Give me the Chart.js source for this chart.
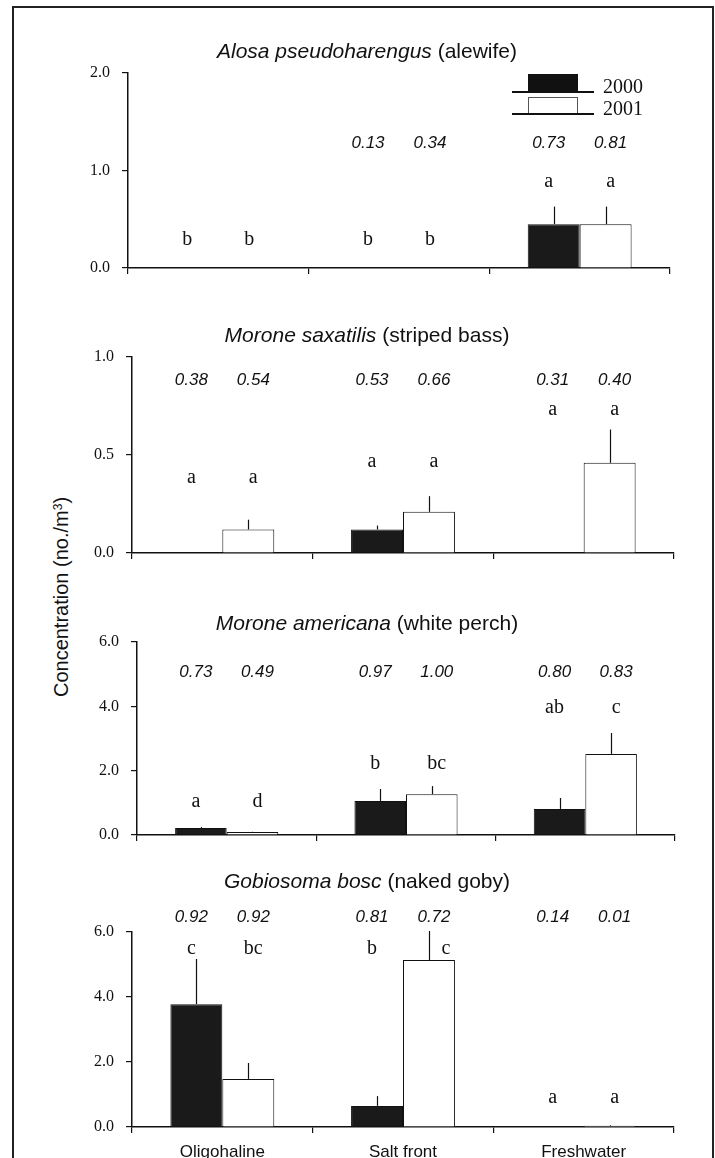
<!DOCTYPE html>
<html><head><meta charset="utf-8">
<script src="https://cdn.jsdelivr.net/npm/chart.js@4.4.1/dist/chart.umd.min.js"></script>
<style>
html,body{margin:0;padding:0;background:#fff;width:715px;height:1158px;overflow:hidden;}
#frame{position:absolute;left:12px;top:6px;width:702px;height:1200px;border:2px solid #222;box-sizing:border-box;}
canvas{position:absolute;left:0;}
#ytitle{position:absolute;left:61px;top:597px;transform:translate(-50%,-50%) rotate(-90deg);font:20px "Liberation Sans",Arial,sans-serif;white-space:nowrap;color:#111;line-height:22px;}
#ytitle sup{font-size:12px;vertical-align:top;position:relative;top:-3px;}
</style></head><body>
<div id="frame"></div>
<div id="ytitle">Concentration (no./m<sup>3</sup>)</div>
<canvas id="c1" width="715" height="290" style="top:0px"></canvas>
<canvas id="c2" width="715" height="290" style="top:290px"></canvas>
<canvas id="c3" width="715" height="285" style="top:580px"></canvas>
<canvas id="c4" width="715" height="293" style="top:865px"></canvas>
<script>
// ---- data ----
const categories = ['Oligohaline', 'Salt front', 'Freshwater'];
const years = ['2000', '2001'];

const alewife2000 = [0, 0, 0.45];
const alewife2001 = [0, 0, 0.45];
const alewifeSE2000 = [0, 0, 0.18];
const alewifeSE2001 = [0, 0, 0.18];
const alewifeP2000 = ['', '0.13', '0.73'];
const alewifeP2001 = ['', '0.34', '0.81'];
const alewifeL2000 = ['b', 'b', 'a'];
const alewifeL2001 = ['b', 'b', 'a'];

const bass2000 = [0.003, 0.12, 0.003];
const bass2001 = [0.12, 0.21, 0.46];
const bassSE2000 = [0, 0.02, 0];
const bassSE2001 = [0.05, 0.08, 0.17];
const bassP2000 = ['0.38', '0.53', '0.31'];
const bassP2001 = ['0.54', '0.66', '0.40'];
const bassL2000 = ['a', 'a', 'a'];
const bassL2001 = ['a', 'a', 'a'];

const perch2000 = [0.22, 1.06, 0.81];
const perch2001 = [0.09, 1.27, 2.52];
const perchSE2000 = [0.03, 0.37, 0.34];
const perchSE2001 = [0.01, 0.25, 0.65];
const perchP2000 = ['0.73', '0.97', '0.80'];
const perchP2001 = ['0.49', '1.00', '0.83'];
const perchL2000 = ['a', 'b', 'ab'];
const perchL2001 = ['d', 'bc', 'c'];

const goby2000 = [3.78, 0.65, 0];
const goby2001 = [1.48, 5.14, 0.04];
const gobySE2000 = [1.39, 0.30, 0];
const gobySE2001 = [0.49, 0.89, 0.02];
const gobyP2000 = ['0.92', '0.81', '0.14'];
const gobyP2001 = ['0.92', '0.72', '0.01'];
const gobyL2000 = ['c', 'b', 'a'];
const gobyL2001 = ['bc', 'c', 'a'];

const yTicksAlewife = [0, 1, 2];
const yTicksBass = [0, 0.5, 1];
const yTicksPerch = [0, 2, 4, 6];
const yTicksGoby = [0, 2, 4, 6];

// ---- layout / style ----
const SANS = '"Liberation Sans", Arial, sans-serif';
const SERIF = '"Liberation Serif", "Times New Roman", serif';
const LABEL_SPREAD = 5;

const panels = [
  {id:'c1', canvasTop:0, canvasH:290, axisX:128, right:670, top:73, bottom:268, max:2, ticks:yTicksAlewife,
   title:['Alosa pseudoharengus', ' (alewife)'], titleY:52.5,
   v:[alewife2000, alewife2001], se:[alewifeSE2000, alewifeSE2001], p:[alewifeP2000, alewifeP2001], l:[alewifeL2000, alewifeL2001],
   pY:1.23, letterY:[0.236, 0.236, 0.83], letterDx:[[0,0,0],[0,0,0]], legend:true, xLabels:false},
  {id:'c2', canvasTop:290, canvasH:290, axisX:132, right:674, top:357, bottom:553, max:1, ticks:yTicksBass,
   title:['Morone saxatilis', ' (striped bass)'], titleY:336.5,
   v:[bass2000, bass2001], se:[bassSE2000, bassSE2001], p:[bassP2000, bassP2001], l:[bassL2000, bassL2001],
   pY:0.857, letterY:[0.357, 0.439, 0.704], letterDx:[[0,0,0],[0,0,0]], legend:false, xLabels:false},
  {id:'c3', canvasTop:580, canvasH:285, axisX:137, right:675, top:642, bottom:835, max:6, ticks:yTicksPerch,
   title:['Morone americana', ' (white perch)'], titleY:624,
   v:[perch2000, perch2001], se:[perchSE2000, perchSE2001], p:[perchP2000, perchP2001], l:[perchL2000, perchL2001],
   pY:4.91, letterY:[0.87, 2.05, 3.79], letterDx:[[0,0,0],[0,0,0]], legend:false, xLabels:false},
  {id:'c4', canvasTop:865, canvasH:293, axisX:132, right:674, top:932, bottom:1127, max:6, ticks:yTicksGoby,
   title:['Gobiosoma bosc', ' (naked goby)'], titleY:882.5,
   v:[goby2000, goby2001], se:[gobySE2000, gobySE2001], p:[gobyP2000, gobyP2001], l:[gobyL2000, gobyL2001],
   pY:6.31, letterY:[5.32, 5.32, 0.74], letterDx:[[0,0,0],[0,12,0]], legend:false, xLabels:true}
];

const annotPlugin = {
  id: 'annot',
  afterDatasetsDraw(chart) {
    const cfg = chart.options.plugins.annot;
    const ctx = chart.ctx;
    const ys = chart.scales.y;
    ctx.save();
    ctx.strokeStyle = '#111';
    ctx.lineWidth = 1.2;
    chart.data.datasets.forEach((ds, di) => {
      const meta = chart.getDatasetMeta(di);
      meta.data.forEach((el, j) => {
        const se = cfg.se[di][j];
        if (se > 0) {
          const y1 = ys.getPixelForValue(ds.data[j]);
          const y2 = ys.getPixelForValue(ds.data[j] + se);
          const x = Math.round(el.x) + 0.5;
          ctx.beginPath(); ctx.moveTo(x, y1); ctx.lineTo(x, y2); ctx.stroke();
        }
      });
    });
    ctx.restore();
  },
  afterDraw(chart) {
    const cfg = chart.options.plugins.annot;
    const ctx = chart.ctx;
    const ys = chart.scales.y;
    ctx.save();
    ctx.fillStyle = '#111';
    ctx.textAlign = 'center';
    ctx.textBaseline = 'alphabetic';
    chart.data.datasets.forEach((ds, di) => {
      const meta = chart.getDatasetMeta(di);
      const spread = di === 0 ? -LABEL_SPREAD : LABEL_SPREAD;
      meta.data.forEach((el, j) => {
        ctx.font = 'italic 17px ' + SANS;
        if (cfg.p[di][j]) ctx.fillText(cfg.p[di][j], el.x + spread, ys.getPixelForValue(cfg.pY));
        ctx.font = '20px ' + SERIF;
        if (cfg.l[di][j]) ctx.fillText(cfg.l[di][j], el.x + spread + cfg.letterDx[di][j], ys.getPixelForValue(cfg.letterY[j]));
      });
    });
    // title: italic genus + plain common name
    const t = cfg.title;
    ctx.textBaseline = 'middle';
    ctx.textAlign = 'left';
    ctx.font = 'italic 21px ' + SANS;
    const w1 = ctx.measureText(t[0]).width;
    ctx.font = '21px ' + SANS;
    const w2 = ctx.measureText(t[1]).width;
    const x0 = 367 - (w1 + w2) / 2;
    const ty = cfg.titleY - cfg.canvasTop;
    ctx.font = 'italic 21px ' + SANS;
    ctx.fillText(t[0], x0, ty);
    ctx.font = '21px ' + SANS;
    ctx.fillText(t[1], x0 + w1, ty);
    // legend
    if (cfg.legend) {
      ctx.fillStyle = '#111';
      ctx.fillRect(528, 74, 50, 18);
      ctx.strokeStyle = '#111';
      ctx.lineWidth = 2;
      ctx.beginPath(); ctx.moveTo(512, 92); ctx.lineTo(594, 92); ctx.stroke();
      ctx.lineWidth = 1;
      ctx.strokeStyle = '#555';
      ctx.strokeRect(528.5, 97.5, 49, 16);
      ctx.strokeStyle = '#111';
      ctx.lineWidth = 2;
      ctx.beginPath(); ctx.moveTo(512, 114); ctx.lineTo(594, 114); ctx.stroke();
      ctx.font = '20px ' + SERIF;
      ctx.textBaseline = 'alphabetic';
      ctx.fillText(years[0], 603, 93);
      ctx.fillText(years[1], 603, 115);
    }
    ctx.restore();
  }
};

panels.forEach(pn => {
  const xH = pn.xLabels ? 31 : 10;
  const padBottom = pn.canvasH - (pn.bottom - pn.canvasTop) - xH;
  new Chart(document.getElementById(pn.id), {
    type: 'bar',
    data: {
      labels: categories,
      datasets: [
        {label: years[0], data: pn.v[0], backgroundColor: '#1a1a1a', borderColor: '#111', borderWidth: 1,
         barPercentage: 1, categoryPercentage: 0.575},
        {label: years[1], data: pn.v[1], backgroundColor: '#ffffff', borderColor: '#111', borderWidth: 1,
         barPercentage: 1, categoryPercentage: 0.575}
      ]
    },
    options: {
      responsive: false,
      animation: false,
      devicePixelRatio: 1,
      layout: {padding: {left: 0, right: 715 - pn.right, top: pn.top - pn.canvasTop, bottom: padBottom}},
      plugins: {
        legend: {display: false},
        tooltip: {enabled: false},
        annot: {se: pn.se, p: pn.p, l: pn.l, pY: pn.pY, letterY: pn.letterY, letterDx: pn.letterDx, title: pn.title,
                titleY: pn.titleY, canvasTop: pn.canvasTop, legend: pn.legend}
      },
      scales: {
        x: {
          offset: true,
          grid: {display: true, drawOnChartArea: false, drawTicks: true, tickLength: 6, color: '#111', lineWidth: 1.2, offset: true},
          border: {display: true, color: '#111', width: 1.5},
          ticks: {display: pn.xLabels, color: '#111', font: {family: SANS, size: 17}, padding: 9, maxRotation: 0},
          afterFit(s) { s.height = xH; }
        },
        y: {
          min: 0, max: pn.max,
          afterBuildTicks(s) { s.ticks = pn.ticks.map(v => ({value: v})); },
          ticks: {color: '#111', font: {family: SERIF, size: 16}, padding: 12, callback: v => Number(v).toFixed(1)},
          grid: {display: true, drawOnChartArea: false, drawTicks: true, tickLength: 6, color: '#111', lineWidth: 1.2},
          border: {display: true, color: '#111', width: 1.5},
          afterFit(s) { s.width = pn.axisX; }
        }
      }
    },
    plugins: [annotPlugin]
  });
});
</script>
</body></html>
